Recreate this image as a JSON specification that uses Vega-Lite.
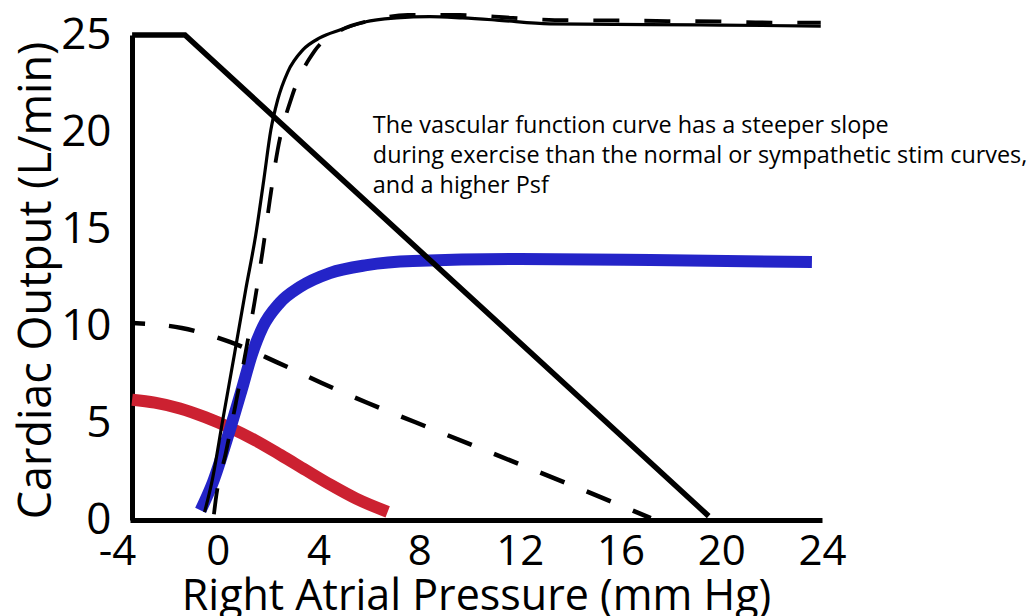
{
  "$schema": "https://vega.github.io/schema/vega-lite/v6.json",
  "width": 705,
  "height": 485,
  "autosize": {"type": "none"},
  "padding": {"left": 117, "top": 35, "right": 210, "bottom": 96},
  "background": "white",
  "config": {
    "view": {"stroke": null},
    "font": "Open Sans",
    "axis": {"labelFont": "Open Sans", "titleFont": "Open Sans", "labelColor": "black", "titleColor": "black", "titleFontWeight": "normal", "grid": false, "ticks": false, "tickSize": 0, "domainColor": "black", "domainWidth": 5, "labelFlush": false}
  },
  "datasets": {
    "curves": [
      {"s": "exVR", "x": -3.4, "y": 25},
      {"s": "exVR", "x": -1.3, "y": 25},
      {"s": "exVR", "x": 19.5, "y": 0.2},
      {"s": "normVR", "x": -3.38, "y": 10.15},
      {"s": "normVR", "x": -1.43, "y": 9.9},
      {"s": "normVR", "x": 0.48, "y": 9.18},
      {"s": "normVR", "x": 2.34, "y": 8.14},
      {"s": "normVR", "x": 4.13, "y": 7.06},
      {"s": "normVR", "x": 5.96, "y": 6.03},
      {"s": "normVR", "x": 7.83, "y": 5.05},
      {"s": "normVR", "x": 15.18, "y": 1.19},
      {"s": "normVR", "x": 17.2, "y": 0.1},
      {"s": "red", "x": -3.4, "y": 6.2},
      {"s": "red", "x": -2.5, "y": 6.05},
      {"s": "red", "x": -1.5, "y": 5.75},
      {"s": "red", "x": -0.5, "y": 5.3},
      {"s": "red", "x": 0.5, "y": 4.75},
      {"s": "red", "x": 1.5, "y": 4.1},
      {"s": "red", "x": 2.5, "y": 3.35},
      {"s": "red", "x": 3.5, "y": 2.57},
      {"s": "red", "x": 4.5, "y": 1.8},
      {"s": "red", "x": 5.5, "y": 1.1},
      {"s": "red", "x": 6.75, "y": 0.42},
      {"s": "blue", "x": -0.68, "y": 0.5},
      {"s": "blue", "x": -0.2, "y": 1.91},
      {"s": "blue", "x": 0.48, "y": 4.64},
      {"s": "blue", "x": 0.95, "y": 6.7},
      {"s": "blue", "x": 1.35, "y": 8.5},
      {"s": "blue", "x": 1.79, "y": 9.95},
      {"s": "blue", "x": 2.46, "y": 11.19},
      {"s": "blue", "x": 3.26, "y": 12.01},
      {"s": "blue", "x": 4.45, "y": 12.73},
      {"s": "blue", "x": 5.92, "y": 13.14},
      {"s": "blue", "x": 7.75, "y": 13.35},
      {"s": "blue", "x": 12, "y": 13.45},
      {"s": "blue", "x": 17.2, "y": 13.4},
      {"s": "blue", "x": 23.6, "y": 13.3},
      {"s": "exCO", "x": -0.52, "y": 0.41},
      {"s": "exCO", "x": -0.24, "y": 1.91},
      {"s": "exCO", "x": 0.2, "y": 5.15},
      {"s": "exCO", "x": 0.68, "y": 8.66},
      {"s": "exCO", "x": 1.11, "y": 11.86},
      {"s": "exCO", "x": 1.51, "y": 14.69},
      {"s": "exCO", "x": 1.83, "y": 17.53},
      {"s": "exCO", "x": 2.11, "y": 20.1},
      {"s": "exCO", "x": 2.38, "y": 21.65},
      {"s": "exCO", "x": 2.78, "y": 23.09},
      {"s": "exCO", "x": 3.38, "y": 24.23},
      {"s": "exCO", "x": 4.05, "y": 24.85},
      {"s": "exCO", "x": 4.85, "y": 25.26},
      {"s": "exCO", "x": 5.84, "y": 25.67},
      {"s": "exCO", "x": 7.11, "y": 25.88},
      {"s": "exCO", "x": 8.42, "y": 25.95},
      {"s": "exCO", "x": 9.73, "y": 25.88},
      {"s": "exCO", "x": 11.08, "y": 25.77},
      {"s": "exCO", "x": 13.19, "y": 25.57},
      {"s": "exCO", "x": 19.15, "y": 25.52},
      {"s": "exCO", "x": 23.95, "y": 25.46},
      {"s": "symCO", "x": -0.15, "y": 0.3},
      {"s": "symCO", "x": -0.08, "y": 1.03},
      {"s": "symCO", "x": 0.32, "y": 3.45},
      {"s": "symCO", "x": 0.72, "y": 6.03},
      {"s": "symCO", "x": 1.11, "y": 8.66},
      {"s": "symCO", "x": 1.47, "y": 11.29},
      {"s": "symCO", "x": 1.79, "y": 13.92},
      {"s": "symCO", "x": 2.07, "y": 16.49},
      {"s": "symCO", "x": 2.38, "y": 19.07},
      {"s": "symCO", "x": 2.94, "y": 21.8},
      {"s": "symCO", "x": 3.85, "y": 24.18},
      {"s": "symCO", "x": 4.9, "y": 25.25},
      {"s": "symCO", "x": 6.1, "y": 25.75},
      {"s": "symCO", "x": 7.55, "y": 26.03},
      {"s": "symCO", "x": 9.61, "y": 26.03},
      {"s": "symCO", "x": 11.72, "y": 25.88},
      {"s": "symCO", "x": 13.39, "y": 25.77},
      {"s": "symCO", "x": 15.77, "y": 25.75},
      {"s": "symCO", "x": 17.88, "y": 25.72},
      {"s": "symCO", "x": 19.94, "y": 25.7},
      {"s": "symCO", "x": 22.01, "y": 25.64},
      {"s": "symCO", "x": 23.95, "y": 25.64}
    ],
    "notes": [
      {"x": 6.16, "y": 19.95, "text": "The vascular function curve has a steeper slope"},
      {"x": 6.16, "y": 18.4, "text": "during exercise than the normal or sympathetic stim curves,"},
      {"x": 6.16, "y": 16.88, "text": "and a higher Psf"}
    ]
  },
  "data": {"name": "curves"},
  "encoding": {
    "x": {"field": "x", "type": "quantitative", "scale": {"domain": [-4, 24], "nice": false, "zero": false},
      "axis": {"values": [-4, 0, 4, 8, 12, 16, 20, 24], "labelExpr": "'' + datum.value", "labelFontSize": 42, "labelPadding": 11, "domainDash": [0, 13, 2000], "title": "Right Atrial Pressure (mm Hg)", "titleFontSize": 43, "titleBaseline": "alphabetic", "titleX": 359, "titleY": 89}},
    "y": {"field": "y", "type": "quantitative", "scale": {"domain": [0, 25], "nice": false},
      "axis": {"values": [0, 5, 10, 15, 20, 25], "labelFontSize": 44, "labelPadding": 21, "offset": -15, "title": "Cardiac Output (L/min)", "titleFontSize": 45, "titleBaseline": "alphabetic", "titleX": -82, "titleY": 245}}
  },
  "layer": [
    {"transform": [{"filter": "datum.s === 'red'"}], "mark": {"type": "line", "color": "#cc2131", "strokeWidth": 12, "interpolate": "monotone", "strokeCap": "butt"}},
    {"transform": [{"filter": "datum.s === 'blue'"}], "mark": {"type": "line", "color": "#2424c8", "strokeWidth": 12, "interpolate": "monotone", "strokeCap": "butt"}},
    {"transform": [{"filter": "datum.s === 'normVR'"}], "mark": {"type": "line", "color": "black", "strokeWidth": 4.5, "interpolate": "monotone", "strokeDash": [26, 24], "strokeDashOffset": 13.5}},
    {"transform": [{"filter": "datum.s === 'exVR'"}], "mark": {"type": "line", "color": "black", "strokeWidth": 5.5, "interpolate": "linear", "strokeJoin": "miter"}},
    {"transform": [{"filter": "datum.s === 'symCO'"}], "mark": {"type": "line", "color": "black", "strokeWidth": 3.8, "interpolate": "monotone", "strokeDash": [26, 25]}},
    {"transform": [{"filter": "datum.s === 'exCO'"}], "mark": {"type": "line", "color": "black", "strokeWidth": 3.2, "interpolate": "monotone"}},
    {"data": {"name": "notes"},
      "mark": {"type": "text", "fontSize": 23.4, "align": "left", "baseline": "alphabetic", "fill": "black"},
      "encoding": {
        "text": {"field": "text", "type": "nominal"}
      }}
  ]
}
